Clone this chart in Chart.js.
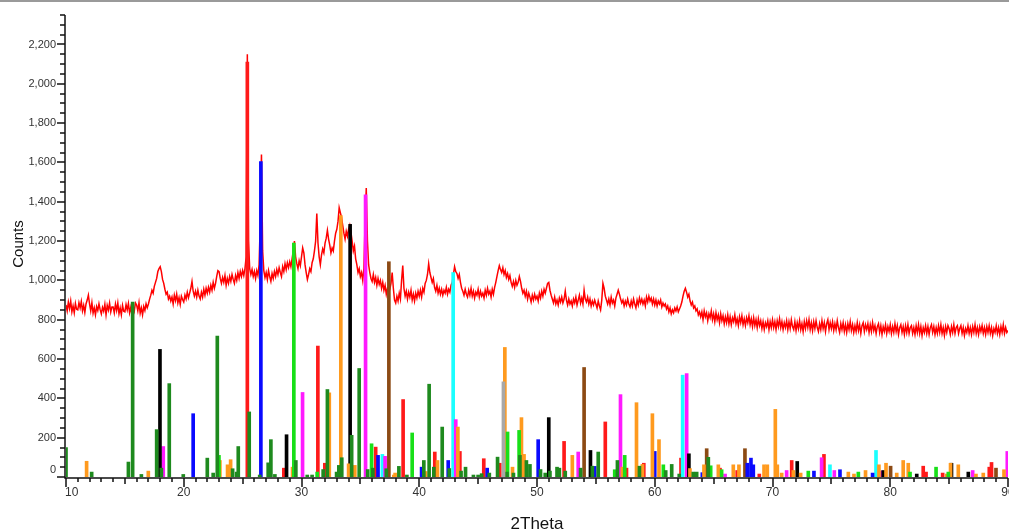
<!DOCTYPE html>
<html>
<head>
<meta charset="utf-8">
<script src="https://cdn.jsdelivr.net/npm/chart.js@4/dist/chart.umd.min.js"></script>
<style>
  body { margin: 0; background: #fff; }
  #wrap { position: relative; width: 1009px; height: 531px; }
  #topline { position: absolute; left: 0; top: 0; width: 1009px; height: 2px; background: #9a9a9a; }
</style>
</head>
<body>
<div id="wrap">
  <canvas id="xrd" width="1009" height="531"></canvas>
  <div id="topline"></div>
</div>
<script>
// measured scan (2Theta from 10 to 90, step 0.1), one row per degree
const scanStart = 10;
const scanStep = 0.1;
const scanCounts = [
  875, 845, 890, 857, 895, 840, 870, 835, 883, 853,
  850, 887, 860, 893, 845, 873, 837, 880, 900, 925,
  880, 845, 887, 833, 860, 825, 867, 847, 881, 851,
  830, 863, 843, 879, 825, 873, 849, 885, 839, 865,
  865, 835, 880, 847, 885, 830, 860, 825, 873, 843,
  840, 877, 850, 883, 835, 863, 827, 870, 845, 885,
  875, 845, 887, 833, 860, 825, 867, 847, 881, 861,
  880, 905, 925, 950, 935, 970, 990, 1010, 1045, 1060,
  1070, 1045, 1005, 985, 955, 930, 940, 905, 920, 895,
  915, 880, 925, 897, 930, 885, 912, 878, 920, 903,
  890, 925, 905, 940, 912, 935, 960, 995, 945, 920,
  945, 915, 950, 920, 905, 940, 915, 955, 925, 960,
  935, 965, 940, 975, 950, 990, 960, 985, 1020, 1050,
  1045, 1010, 985, 1015, 990, 1025, 975, 1010, 985, 1020,
  995, 1030, 1005, 985, 1025, 1000, 1040, 1010, 1045, 1020,
  1050, 1025, 1060, 1120, 2150, 1200, 1060, 1030, 1055, 1020,
  1045, 1010, 1050, 1025, 1080, 1300, 1640, 1150, 1050, 1015,
  1040, 1005, 1050, 1020, 995, 1035, 1010, 1045, 1020, 1055,
  1030, 1065, 1040, 1020, 1070, 1045, 1085, 1055, 1090, 1065,
  1095, 1070, 1110, 1150, 1200, 1120, 1085, 1060, 1100, 1075,
  1120, 1165, 1140, 1080, 1040, 1005, 1030, 1060, 1045, 1090,
  1110, 1150, 1200, 1340, 1190, 1120, 1080, 1130, 1160, 1140,
  1190, 1215, 1255, 1210, 1180, 1140, 1165, 1150, 1200, 1240,
  1260, 1300, 1370, 1345, 1320, 1280, 1240, 1210, 1250, 1225,
  1260, 1280, 1245, 1200, 1150, 1175, 1110, 1080, 1040, 1060,
  1020, 1040, 1000, 1060, 1300, 1470, 1200, 1080, 1040, 1010,
  995, 1030, 990, 1015, 975, 1010, 980, 1000, 960, 990,
  950, 975, 930, 960, 940, 955, 985, 1040, 960, 900,
  885, 920, 895, 935, 905, 1000, 1075, 960, 920, 945,
  905, 940, 915, 950, 900, 930, 895, 935, 910, 945,
  920, 950, 915, 960, 940, 985, 1000, 1030, 1085, 1040,
  1015, 990, 1010, 965, 945, 975, 935, 960, 930, 955,
  925, 950, 935, 965, 930, 955, 940, 975, 990, 1030,
  1070, 1045, 1035, 1010, 1030, 990, 960, 945, 925, 955,
  930, 915, 950, 925, 960, 920, 945, 910, 940, 925,
  955, 915, 945, 920, 935, 910, 950, 925, 960, 930,
  945, 915, 955, 930, 965, 990, 1020, 1050, 1075, 1055,
  1040, 1065, 1030, 1050, 1015, 1035, 1005, 1025, 990, 970,
  995, 965, 1000, 975, 990, 1020, 995, 960, 935, 950,
  920, 945, 905, 935, 915, 890, 925, 900, 930, 905,
  920, 895, 935, 910, 945, 920, 955, 935, 960, 985,
  990, 950, 925, 905, 885, 915, 880, 900, 875, 910,
  890, 915, 885, 905, 945, 900, 875, 905, 880, 895,
  870, 905, 885, 915, 875, 900, 925, 885, 910, 880,
  950, 905, 890, 915, 880, 905, 870, 895, 875, 900,
  880, 860, 895, 870, 850, 900, 985, 960, 920, 900,
  880, 905, 875, 915, 885, 900, 870, 910, 930, 950,
  930, 905, 885, 900, 870, 895, 875, 905, 880, 865,
  895, 870, 905, 880, 860, 900, 875, 910, 885, 905,
  880, 900, 870, 915, 890, 920, 895, 910, 880, 905,
  875, 900, 870, 895, 880, 900, 865, 885, 870, 880,
  855, 870, 840, 860, 830, 850, 835, 860, 845, 865,
  840, 855, 870, 890, 920, 945, 960, 940, 915, 930,
  895, 875, 890, 860, 870, 845, 855, 825, 840, 815,
  840, 800, 845, 815, 835, 795, 830, 810, 845, 800,
  830, 790, 835, 800, 825, 785, 830, 795, 820, 780,
  815, 785, 825, 780, 815, 775, 810, 790, 825, 780,
  805, 770, 815, 785, 820, 775, 805, 770, 810, 785,
  820, 775, 805, 765, 810, 770, 800, 760, 805, 770,
  795, 755, 790, 750, 785, 765, 795, 750, 790, 760,
  800, 760, 790, 750, 795, 765, 805, 760, 790, 750,
  785, 760, 795, 750, 790, 755, 800, 765, 750, 790,
  745, 785, 755, 795, 750, 780, 740, 790, 755, 795,
  760, 800, 750, 785, 745, 790, 755, 795, 760, 740,
  780, 750, 795, 755, 785, 740, 780, 800, 750, 785,
  755, 790, 745, 780, 750, 795, 760, 735, 780, 750,
  785, 740, 775, 735, 780, 750, 790, 745, 775, 735,
  770, 740, 785, 745, 775, 730, 770, 785, 740, 775,
  750, 780, 735, 775, 740, 785, 745, 770, 730, 765,
  780, 735, 770, 725, 765, 740, 775, 730, 765, 740,
  775, 730, 765, 735, 780, 740, 770, 725, 760, 775,
  735, 765, 725, 770, 735, 775, 730, 760, 770, 730,
  760, 725, 770, 735, 775, 730, 765, 720, 760, 735,
  770, 730, 765, 725, 760, 775, 735, 765, 725, 760,
  730, 770, 735, 775, 730, 760, 720, 765, 735, 770,
  755, 725, 765, 735, 775, 730, 760, 770, 730, 755,
  770, 730, 760, 720, 755, 735, 770, 730, 760, 725,
  765, 735, 775, 730, 760, 725, 765, 740, 770, 730,
  760, 725, 765, 735, 770, 730, 760, 720, 755, 735,
  770, 730, 760, 725, 765, 735, 775, 730, 760, 735,
  745
];

// reference patterns: [2Theta, counts]
const darkGreenSticks = [
  [10.0, 150], [12.18, 25], [15.3, 76], [15.66, 890], [16.4, 13], [17.7, 241],
  [18.1, 45], [18.77, 475], [19.96, 13], [22.0, 96], [22.5, 20], [22.85, 717],
  [24.15, 42], [24.49, 25], [24.63, 155], [25.56, 331], [26.45, 10], [27.17, 72],
  [27.4, 190], [27.74, 13], [29.52, 84], [30.49, 10], [30.9, 10], [31.84, 38],
  [32.2, 445], [32.98, 25], [33.17, 59], [33.42, 98], [34.26, 212], [34.9, 552],
  [35.62, 38], [36.06, 45], [37.2, 42], [38.27, 54], [38.95, 10], [40.39, 84],
  [40.84, 472], [41.24, 50], [41.95, 254], [42.55, 43], [43.55, 30], [43.93, 50],
  [44.6, 10], [45.0, 10], [45.3, 17], [45.95, 20], [46.65, 101], [47.45, 25],
  [48.0, 20], [48.55, 110], [49.1, 84], [49.4, 64], [50.3, 38], [50.7, 20],
  [51.1, 30], [51.7, 50], [51.9, 45], [52.4, 30], [53.7, 45], [54.7, 55],
  [55.2, 127], [56.83, 84], [58.7, 55], [60.93, 33], [61.44, 64], [62.08, 15],
  [63.27, 25], [63.56, 25], [64.55, 100]
];
const limeSticks = [
  [22.99, 110], [29.35, 1190], [31.33, 25], [35.95, 169], [39.4, 224], [47.5, 229],
  [48.48, 237], [56.6, 37], [57.45, 110], [60.73, 62], [64.75, 57], [65.68, 37],
  [73.04, 30], [77.29, 25], [81.68, 25], [83.89, 50], [84.93, 25]
];
const blueSticks = [
  [20.8, 322], [26.55, 1605], [36.5, 110], [40.2, 50], [42.46, 84], [45.77, 45],
  [50.1, 190], [54.9, 54], [60.0, 130], [64.04, 22], [67.86, 70], [68.17, 96],
  [68.37, 62], [73.52, 30], [75.73, 37], [78.5, 20]
];
const redSticks = [
  [25.4, 2110], [28.5, 45], [31.39, 666], [31.98, 70], [36.3, 152], [38.63, 394],
  [41.32, 127], [43.45, 130], [45.48, 93], [46.84, 70], [52.3, 181], [55.8, 280],
  [57.6, 45], [59.07, 70], [62.23, 96], [65.54, 45], [67.0, 33], [68.88, 15],
  [71.63, 84], [74.37, 115], [82.8, 55], [83.04, 25], [84.45, 20], [88.41, 50],
  [88.6, 74]
];
const blackSticks = [
  [17.98, 649], [28.73, 215], [34.13, 1285], [51.0, 302], [54.54, 135], [62.9, 118],
  [72.1, 79], [79.4, 33], [82.25, 15], [85.2, 70], [86.63, 25]
];
const orangeSticks = [
  [11.75, 80], [16.99, 30], [23.07, 84], [23.72, 62], [23.98, 88], [29.24, 50],
  [32.36, 428], [33.34, 1330], [34.0, 67], [34.53, 59], [37.84, 10], [37.95, 20],
  [40.55, 28], [41.55, 84], [43.28, 254], [47.27, 659], [47.92, 50], [48.68, 302],
  [48.9, 115], [53.0, 110], [57.25, 50], [58.45, 378], [58.95, 64], [59.8, 322],
  [60.36, 190], [62.99, 43], [64.18, 62], [65.4, 62], [66.67, 62], [67.15, 62],
  [69.28, 62], [69.56, 62], [70.24, 344], [70.41, 62], [70.78, 20], [71.77, 33],
  [72.39, 20], [76.44, 25], [76.92, 15], [77.9, 33], [79.04, 62], [79.64, 70],
  [80.55, 20], [81.1, 84], [81.53, 70], [84.8, 15], [85.12, 70], [85.78, 62],
  [87.28, 15], [87.9, 20], [89.66, 37]
];
const magentaSticks = [
  [18.26, 155], [30.09, 430], [35.44, 1435], [37.1, 105], [43.1, 292], [53.5, 127],
  [57.09, 419], [62.71, 526], [65.97, 15], [71.2, 33], [74.17, 98], [75.25, 33],
  [79.2, 30], [87.0, 33], [89.94, 130]
];
const cyanSticks = [
  [36.87, 115], [42.88, 1040], [62.37, 518], [74.88, 62], [78.79, 135]
];
const brownSticks = [
  [37.42, 1095], [54.0, 557], [64.41, 144], [67.66, 144], [80.03, 55], [88.98, 45]
];
const graySticks = [
  [47.15, 484]
];

// axes
const xMin = 10, xMax = 90;
const yMin = 0, yMax = 2350;
const xTicks = [10, 20, 30, 40, 50, 60, 70, 80, 90];
const yTicks = [0, 200, 400, 600, 800, 1000, 1200, 1400, 1600, 1800, 2000, 2200];
const xTitle = '2Theta';
const yTitle = 'Counts';

const scanData = scanCounts.map((c, i) => ({ x: +(scanStart + i * scanStep).toFixed(2), y: c }));

function stickSet(name, sticks, color) {
  return {
    type: 'bar',
    label: name,
    data: sticks.map(s => ({ x: s[0], y: s[1] })),
    backgroundColor: color,
    borderWidth: 0,
    barThickness: 3,
    grouped: false,
    order: 0
  };
}

const axisDecor = {
  id: 'axisDecor',
  afterDraw(chart) {
    const { ctx, chartArea: a, scales: { x, y } } = chart;
    ctx.save();
    ctx.strokeStyle = '#111';
    ctx.lineWidth = 1.5;
    ctx.beginPath();
    ctx.moveTo(a.left - 1, a.top);
    ctx.lineTo(a.left - 1, a.bottom + 1);
    ctx.lineTo(a.right, a.bottom + 1);
    for (let v = yMin; v <= yMax; v += 50) {
      const py = Math.round(y.getPixelForValue(v));
      const len = v % 200 === 0 ? 8 : 5;
      ctx.moveTo(a.left - 1 - len, py);
      ctx.lineTo(a.left - 1, py);
    }
    for (let v = xMin; v <= xMax; v += 1) {
      const px = Math.round(x.getPixelForValue(v));
      const len = v % 10 === 0 ? 9 : (v % 5 === 0 ? 6 : 4);
      ctx.moveTo(px, a.bottom + 1);
      ctx.lineTo(px, a.bottom + 1 + len);
    }
    ctx.stroke();

    ctx.fillStyle = '#333';
    ctx.font = '11px "Liberation Sans", Arial, sans-serif';
    ctx.textAlign = 'right';
    ctx.textBaseline = 'middle';
    yTicks.forEach(v => {
      let py = y.getPixelForValue(v);
      if (v === 0) py -= 7;
      ctx.fillText(v.toLocaleString('en-US'), a.left - 10, py);
    });

    ctx.font = '12px "Liberation Sans", Arial, sans-serif';
    ctx.textBaseline = 'middle';
    xTicks.forEach((v, i) => {
      const px = x.getPixelForValue(v);
      ctx.textAlign = i === 0 ? 'left' : 'center';
      ctx.fillText(String(v), i === 0 ? px - 1 : px, a.bottom + 16);
    });

    ctx.fillStyle = '#111';
    ctx.font = '17px "Liberation Sans", Arial, sans-serif';
    ctx.textAlign = 'center';
    ctx.textBaseline = 'alphabetic';
    ctx.fillText(xTitle, (a.left + a.right) / 2, 529);

    ctx.font = '15px "Liberation Sans", Arial, sans-serif';
    ctx.translate(23, 244);
    ctx.rotate(-Math.PI / 2);
    ctx.fillText(yTitle, 0, 0);
    ctx.restore();
  }
};

new Chart(document.getElementById('xrd'), {
  type: 'bar',
  data: {
    datasets: [
      stickSet('Gray', graySticks, '#a8a8a8'),
      stickSet('Dark green', darkGreenSticks, '#1e8a1e'),
      stickSet('Lime', limeSticks, '#18e018'),
      stickSet('Orange', orangeSticks, '#ff9a1e'),
      stickSet('Blue', blueSticks, '#0a0aff'),
      stickSet('Black', blackSticks, '#000000'),
      stickSet('Magenta', magentaSticks, '#ff1aff'),
      stickSet('Cyan', cyanSticks, '#1affff'),
      stickSet('Brown', brownSticks, '#8c4a14'),
      stickSet('Red', redSticks, '#ff1a1a'),
      {
        type: 'line',
        label: 'Scan',
        data: scanData,
        borderColor: '#ff0000',
        borderWidth: 1.5,
        pointRadius: 0,
        tension: 0,
        fill: false,
        order: 10
      }
    ]
  },
  options: {
    responsive: false,
    animation: false,
    devicePixelRatio: 1,
    layout: { padding: { left: 66, right: 1, top: 15, bottom: 54 } },
    plugins: { legend: { display: false }, tooltip: { enabled: false } },
    scales: {
      x: { type: 'linear', min: xMin, max: xMax, offset: false, display: false },
      y: { type: 'linear', min: yMin, max: yMax, display: false }
    }
  },
  plugins: [axisDecor]
});
</script>
</body>
</html>
